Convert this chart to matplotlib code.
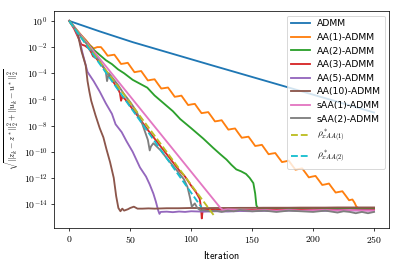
import numpy as np
import matplotlib
matplotlib.use("Agg")
import matplotlib.pyplot as plt
from matplotlib.ticker import FuncFormatter, FixedLocator, NullLocator

plt.rcParams['mathtext.fontset'] = 'cm'

labels = ["ADMM", "AA(1)-ADMM", "AA(2)-ADMM", "AA(3)-ADMM", "AA(5)-ADMM",
          "AA(10)-ADMM", "sAA(1)-ADMM", "sAA(2)-ADMM",
          r"$\rho^*_{xAA(1)}$", r"$\rho^*_{xAA(2)}$"]

# log10 of the residual
admm_it = [0, 25, 52, 118, 184, 250]
admm_lg = [0, -0.8, -1.62, -3.42, -5.2, -7.0]

aa1_it = [0, 5, 10, 14, 17, 20, 23, 26.0, 28.75, 31.5, 34.25, 37.0, 39.75, 42.5, 45.25, 48.0,
          50.75, 53.5, 56.25, 59.0, 61.75, 64.5, 67.25, 70.0, 72.75, 75.5, 78.25, 81.0,
          83.75, 86.5, 89.25, 92.0, 94.75, 97.5, 100.25, 103.0, 105.75, 108.5, 111.25,
          114.0, 116.75, 119.5, 122.25, 125.0, 127.75, 130.5, 133.25, 136.0, 138.75,
          141.5, 144.25, 147.0, 149.75, 152.5, 155.25, 158.0, 160.75, 163.5, 166.25,
          169.0, 171.75, 174.5, 177.25, 180.0, 182.75, 185.5, 188.25, 191.0, 193.75,
          196.5, 199.25, 202.0, 204.75, 207.5, 210.25, 213.0, 215.75, 218.5, 221.25,
          224.0, 226.75, 229.5, 232.25, 234, 235.5, 237, 240, 245, 250]
aa1_lg = [0, -0.55, -1.1, -1.5, -1.85, -2.1, -2.0, -2.0, -2.31, -2.66, -2.62, -2.58, -2.93,
          -3.29, -3.25, -3.20, -3.56, -3.92, -3.87, -3.83, -4.19, -4.55, -4.50, -4.46,
          -4.82, -5.17, -5.13, -5.09, -5.44, -5.80, -5.76, -5.71, -6.07, -6.43, -6.38,
          -6.34, -6.70, -7.05, -7.01, -6.97, -7.32, -7.68, -7.64, -7.59, -7.95, -8.31,
          -8.26, -8.22, -8.58, -8.93, -8.89, -8.85, -9.20, -9.56, -9.52, -9.47, -9.83,
          -10.19, -10.14, -10.10, -10.45, -10.79, -10.74, -10.68, -11.03, -11.37, -11.32,
          -11.27, -11.61, -11.96, -11.90, -11.85, -12.19, -12.54, -12.49, -12.43, -12.78,
          -13.12, -13.07, -13.02, -13.36, -13.71, -13.65, -13.9, -14.2, -14.3, -14.3,
          -14.32, -14.3]

aa2_it = [0, 5, 10, 15, 20, 25, 30, 35, 40, 45, 52, 58, 64, 70, 75, 80, 85, 91, 100, 110,
          118, 124, 129, 133, 137, 141, 145, 148, 151, 152.5, 153.5, 155, 160, 170, 180,
          190, 200, 210, 220, 230, 240, 250]
aa2_lg = [0, -0.6, -1.15, -1.7, -2.2, -2.6, -3.0, -3.3, -3.7, -4.0, -4.5, -4.8, -5.1, -5.7,
          -6.1, -6.5, -6.9, -7.5, -8.2, -9.0, -9.7, -10.2, -10.6, -11.0, -11.35, -11.5,
          -11.7, -12.0, -12.4, -13.2, -14.1, -14.35, -14.37, -14.35, -14.38, -14.36,
          -14.38, -14.35, -14.37, -14.36, -14.38, -14.36]

aa3_it = [0, 4, 8, 10, 13, 16, 18, 19.5, 22, 26, 30, 35, 40, 41.5, 42.5, 43.5, 46, 50, 58,
          65, 70, 80, 90, 95, 100, 104, 107, 108, 108.7, 109.5, 112, 120, 140, 160, 180,
          200, 220, 250]
aa3_lg = [0, -0.6, -1.4, -1.8, -1.9, -2.1, -2.4, -2.7, -2.85, -3.3, -3.8, -4.5, -5.2, -5.5,
          -6.1, -5.8, -6.0, -6.5, -7.5, -8.4, -9.0, -10.2, -11.4, -11.9, -12.6, -13.1,
          -13.6, -14.2, -15.1, -14.45, -14.4, -14.42, -14.45, -14.42, -14.44, -14.42,
          -14.44, -14.43]

aa5_it = [0, 5, 8, 11, 15, 20, 25, 30, 35, 38, 43, 47, 52, 55, 58, 63, 66, 69, 71, 73, 74,
          75, 80, 85, 90, 95, 100, 110, 120, 130, 140, 150, 160, 170, 180, 190, 200, 210,
          220, 230, 240, 250]
aa5_lg = [0, -0.65, -1.3, -2.5, -3.9, -4.6, -5.4, -6.3, -7.1, -7.9, -8.5, -9.2, -10.0,
          -10.6, -11.2, -11.9, -12.5, -13.2, -13.8, -14.5, -14.75, -14.6, -14.58, -14.62,
          -14.57, -14.6, -14.55, -14.58, -14.55, -14.57, -14.53, -14.55, -14.52, -14.55,
          -14.5, -14.53, -14.5, -14.52, -14.48, -14.5, -14.48, -14.5]

aa10_it = [0, 4, 7, 10, 13.5, 15, 16.5, 18, 21.5, 25, 28, 30.5, 33.5, 36.5, 38.5, 40.3, 42,
           43.5, 45, 48, 50, 53, 56, 60, 65, 70, 80, 90, 100, 110, 120, 130, 140, 150,
           160, 170, 180, 190, 200, 210, 220, 230, 240, 250]
aa10_lg = [0, -0.45, -1.0, -2.3, -3.4, -4.6, -5.4, -6.1, -7.2, -8.2, -8.9, -9.8, -10.8,
           -12.0, -13.4, -14.3, -14.55, -14.35, -14.5, -14.4, -14.3, -14.2, -14.35, -14.35,
           -14.33, -14.35, -14.32, -14.32, -14.3, -14.31, -14.3, -14.3, -14.29, -14.29,
           -14.28, -14.28, -14.28, -14.27, -14.27, -14.27, -14.26, -14.26, -14.26, -14.26]

saa1_it = [0, 124, 126, 130, 140, 150, 160, 170, 180, 190, 200, 210, 220, 230, 240, 250]
saa1_lg = [0, -14.3, -14.45, -14.4, -14.45, -14.5, -14.45, -14.5, -14.45, -14.5, -14.48,
           -14.45, -14.5, -14.45, -14.5, -14.5]

saa2_it = [0, 5, 10, 15, 20, 25, 28, 30, 31, 32.5, 35, 40, 45, 50, 55, 60, 64.5, 66, 67, 69,
           75, 80, 88, 94, 97, 99, 100.5, 103, 105, 108, 110, 115, 120, 125, 130, 135, 140,
           150, 160, 170, 180, 190, 200, 210, 220, 225, 230, 235, 240, 245, 250]
saa2_lg = [0, -0.6, -1.25, -1.85, -2.5, -3.1, -3.5, -3.9, -4.6, -4.0, -4.3, -4.9, -5.6,
           -6.2, -6.9, -7.9, -9.1, -9.9, -9.6, -9.35, -9.9, -10.5, -11.4, -12.1, -12.7,
           -13.5, -14.2, -13.95, -14.3, -14.5, -14.45, -14.55, -14.5, -14.6, -14.5, -14.55,
           -14.45, -14.55, -14.5, -14.6, -14.5, -14.55, -14.6, -14.5, -14.65, -14.55, -14.6,
           -14.7, -14.6, -14.7, -14.6]

rho1_it = [0, 118.5]
rho1_lg = [0, -14.85]
rho2_it = [0, 108.5]
rho2_lg = [0, -14.25]

series = [(admm_it, admm_lg), (aa1_it, aa1_lg), (aa2_it, aa2_lg), (aa3_it, aa3_lg),
          (aa5_it, aa5_lg), (aa10_it, aa10_lg), (saa1_it, saa1_lg), (saa2_it, saa2_lg),
          (rho1_it, rho1_lg), (rho2_it, rho2_lg)]
colors = plt.rcParams['axes.prop_cycle'].by_key()['color']

fig = plt.figure(figsize=(6, 4), dpi=66.5)
ax = fig.add_axes([54 / 399, 1 - 228 / 266, (389.3 - 54) / 399, (228 - 11) / 266])

for i, ((it, lg), lab) in enumerate(zip(series, labels)):
    ls = '--' if i >= 8 else '-'
    ax.semilogy(it, 10.0 ** np.array(lg), ls, color=colors[i], lw=2, label=lab)

ax.set_xlim(-12.5, 262.5)
ax.set_ylim(10 ** -15.83, 10 ** 0.76)
ax.yaxis.set_major_locator(FixedLocator([10.0 ** k for k in range(0, -15, -2)]))
ax.yaxis.set_minor_locator(NullLocator())
ax.yaxis.set_major_formatter(FuncFormatter(lambda v, p: r'$10^{%d}$' % round(np.log10(v))))
ax.xaxis.set_major_locator(FixedLocator([0, 50, 100, 150, 200, 250]))
ax.xaxis.set_major_formatter(FuncFormatter(lambda v, p: r'$%d$' % v))
ax.tick_params(labelsize=10.5)
ax.set_xlabel(r'$\mathsf{Iteration}$', fontsize=11)
ax.set_ylabel(r'$\sqrt{||z_k-z^*||_2^2+||u_k-u^*||_2^2}$', fontsize=9)
ax.yaxis.set_label_coords(-0.098, 0.5)
ax.legend(loc='upper right', fontsize=10)

fig.savefig('out.png', dpi=66.5)
